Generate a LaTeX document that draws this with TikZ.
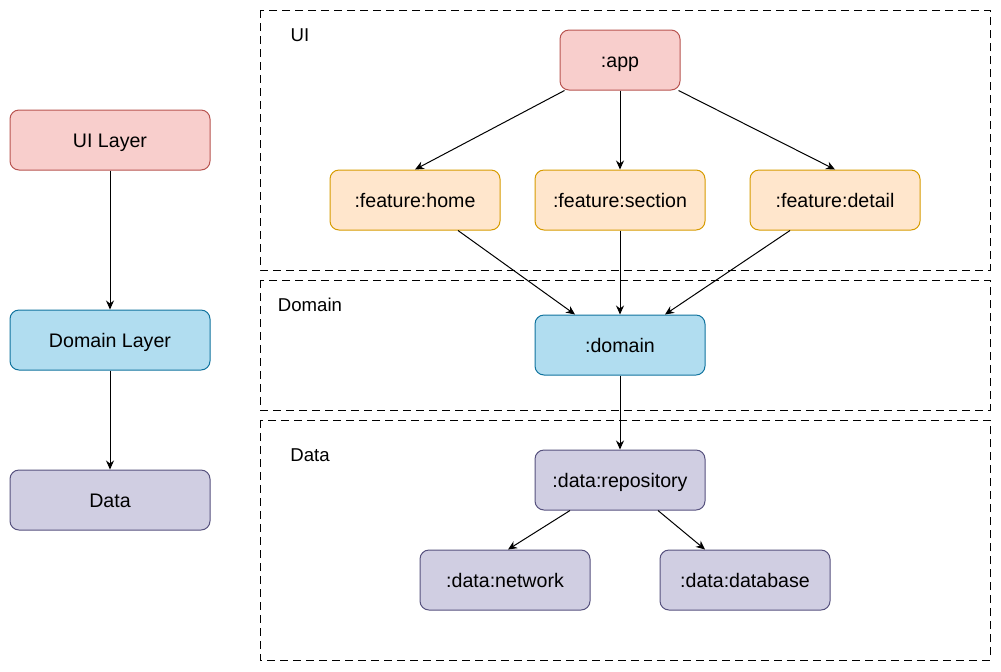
\documentclass[tikz,border=0pt]{standalone}
\usepackage{fontspec}
\setmainfont{Liberation Sans}
\usetikzlibrary{arrows.meta}
\definecolor{uifill}{HTML}{F8CECC}
\definecolor{uiline}{HTML}{B85450}
\definecolor{featfill}{HTML}{FFE6CC}
\definecolor{featline}{HTML}{D79B00}
\definecolor{domfill}{HTML}{B1DDF0}
\definecolor{domline}{HTML}{10739E}
\definecolor{datfill}{HTML}{D0CEE2}
\definecolor{datline}{HTML}{56517E}
\tikzset{
  modbox/.style={draw, rounded corners=4.5pt, line width=0.5pt, minimum height=30pt, inner sep=0pt,
                 text height=7pt, text depth=0pt, font=\fontsize{9.8}{11}\selectfont},
  uibox/.style={modbox, fill=uifill, draw=uiline},
  featbox/.style={modbox, fill=featfill, draw=featline, minimum width=85pt},
  dombox/.style={modbox, fill=domfill, draw=domline},
  datbox/.style={modbox, fill=datfill, draw=datline},
  dep/.style={-{Stealth[length=4.5pt,width=4pt]}, line width=0.5pt},
  layerbox/.style={draw, line width=0.5pt, dash pattern=on 4pt off 2.5pt},
  layertitle/.style={font=\fontsize{9.3}{11}\selectfont}
}
\begin{document}
\begin{tikzpicture}[x=0.5pt, y=-0.5pt]
\useasboundingbox (0,0) rectangle (1001,671);
% layer legend
\node[uibox, minimum width=100pt] (uilayer) at (110,140) {UI Layer};
\node[dombox, minimum width=100pt] (domlayer) at (110,340) {Domain Layer};
\node[datbox, minimum width=100pt] (datlayer) at (110,500) {Data};
\draw[dep] (uilayer.south) -- (domlayer.north);
\draw[dep] (domlayer.south) -- (datlayer.north);
% dashed layer regions
\draw[layerbox] (260,10) rectangle (990,270);
\draw[layerbox] (260,280) rectangle (990,410);
\draw[layerbox] (260,420) rectangle (990,660);
\node[layertitle] (uititle) at (300,35) {UI};
\node[layertitle] (domtitle) at (310,305) {Domain};
\node[layertitle] (dattitle) at (310,455) {Data};
% modules
\node[uibox, minimum width=60pt] (app) at (620,60) {:app};
\node[featbox] (home) at (415,200) {:feature:home};
\node[featbox] (section) at (620,200) {:feature:section};
\node[featbox] (detail) at (835,200) {:feature:detail};
\node[dombox, minimum width=85pt] (domain) at (620,345) {:domain};
\node[datbox, minimum width=85pt] (repo) at (620,480) {:data:repository};
\node[datbox, minimum width=85pt] (network) at (505,580) {:data:network};
\node[datbox, minimum width=85pt] (database) at (745,580) {:data:database};
% dependencies
\draw[dep] ([xshift=2.5pt]app.south west) -- (home.north);
\draw[dep] (app.south) -- (section.north);
\draw[dep] ([xshift=-1pt]app.south east) -- (detail.north);
\draw[dep] ([xshift=21.5pt]home.south) -- ([xshift=-22.5pt]domain.north);
\draw[dep] (section.south) -- (domain.north);
\draw[dep] ([xshift=-22.5pt]detail.south) -- ([xshift=22.5pt]domain.north);
\draw[dep] (domain.south) -- (repo.north);
\draw[dep] ([xshift=-25pt]repo.south) -- ([xshift=1.5pt]network.north);
\draw[dep] ([xshift=19pt]repo.south) -- ([xshift=-20pt]database.north);
\end{tikzpicture}
\end{document}
